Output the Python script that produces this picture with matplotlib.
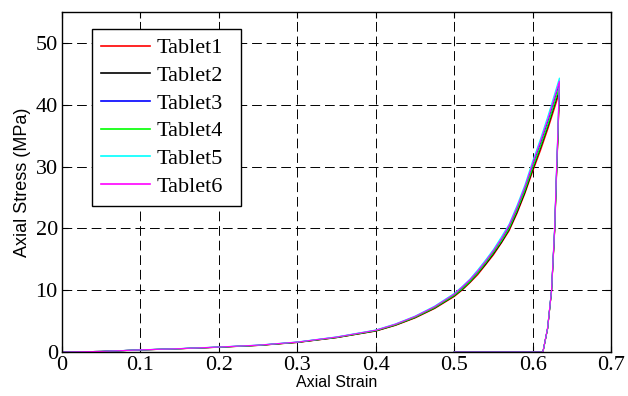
import numpy as np
import matplotlib.pyplot as plt

# strain points: loading up to peak, then unloading back to zero stress
strain = [0, 0.05, 0.1, 0.15, 0.2, 0.25, 0.3, 0.35, 0.4, 0.425, 0.45, 0.475, 0.5,
          0.51, 0.52, 0.53, 0.54, 0.55, 0.56, 0.57, 0.58, 0.59, 0.6, 0.61, 0.62, 0.63, 0.634,
          0.632, 0.630, 0.628, 0.624, 0.619, 0.613, 0.5]

# stress (MPa) for each tablet
tablet1 = [0, 0.1, 0.34, 0.53, 0.77, 1.06, 1.54, 2.32, 3.38, 4.30, 5.50, 7.03, 8.97,
           10.0, 11.2, 12.5, 14.1, 15.7, 17.6, 19.6, 22.4, 25.6, 29.2, 32.6, 36.3, 40.3, 42.0,
           34.0, 27.0, 19.5, 9.8, 3.8, 0, 0]
tablet2 = [0, 0.1, 0.34, 0.54, 0.78, 1.07, 1.56, 2.34, 3.41, 4.35, 5.56, 7.10, 9.07,
           10.1, 11.3, 12.7, 14.2, 15.9, 17.7, 19.8, 22.6, 25.8, 29.5, 33.0, 36.7, 40.8, 42.4,
           34.3, 27.3, 19.7, 9.9, 3.8, 0, 0]
tablet3 = [0, 0.1, 0.35, 0.55, 0.8, 1.1, 1.6, 2.4, 3.5, 4.46, 5.70, 7.28, 9.3,
           10.4, 11.6, 13.0, 14.6, 16.3, 18.2, 20.3, 23.2, 26.5, 30.3, 33.8, 37.6, 41.8, 43.5,
           35.0, 27.9, 20.0, 10.0, 3.9, 0, 0]
tablet4 = [0, 0.1, 0.34, 0.54, 0.79, 1.08, 1.58, 2.36, 3.45, 4.39, 5.61, 7.17, 9.16,
           10.2, 11.4, 12.8, 14.4, 16.1, 17.9, 20.0, 22.9, 26.1, 29.8, 33.3, 37.0, 41.2, 42.8,
           34.5, 27.5, 19.8, 9.9, 3.8, 0, 0]
tablet5 = [0, 0.1, 0.36, 0.56, 0.82, 1.12, 1.63, 2.45, 3.57, 4.55, 5.81, 7.43, 9.49,
           10.6, 11.8, 13.3, 14.9, 16.6, 18.6, 20.7, 23.7, 27.0, 30.9, 34.5, 38.4, 42.6, 44.3,
           35.6, 28.3, 20.3, 10.1, 3.9, 0, 0]
tablet6 = [0, 0.1, 0.35, 0.55, 0.81, 1.11, 1.61, 2.42, 3.53, 4.50, 5.75, 7.34, 9.37,
           10.5, 11.7, 13.1, 14.7, 16.4, 18.3, 20.5, 23.4, 26.7, 30.5, 34.1, 37.9, 42.1, 43.8,
           35.3, 28.1, 20.1, 10.0, 3.9, 0, 0]

labels = ['Tablet1', 'Tablet2', 'Tablet3', 'Tablet4', 'Tablet5', 'Tablet6']
colors = ['#ff0000', '#000000', '#0000ff', '#00ff00', '#00ffff', '#ff00ff']

fig = plt.figure(figsize=(6.28, 3.96), dpi=100)
ax = fig.add_axes([0.0987, 0.111, 0.8745, 0.859])

for s, lab, c in zip([tablet1, tablet2, tablet3, tablet4, tablet5, tablet6], labels, colors):
    ax.plot(strain, s, color=c, lw=0.8, label=lab)

ax.set_xlim(0, 0.7)
ax.set_ylim(0, 55)
ax.set_xticks(np.arange(0, 0.71, 0.1))
ax.set_xticklabels(['0', '0.1', '0.2', '0.3', '0.4', '0.5', '0.6', '0.7'])
ax.set_yticks([0, 10, 20, 30, 40, 50])

ax.grid(True, color='black', linestyle=(0, (10, 5)), linewidth=0.7)
ax.tick_params(direction='in', top=True, right=True, length=4, width=0.8,
               labelsize=16, pad=3)
for lbl in ax.get_xticklabels() + ax.get_yticklabels():
    lbl.set_family('Liberation Serif')
for sp in ax.spines.values():
    sp.set_linewidth(1.0)

ax.set_xlabel('Axial Strain', fontsize=11.5, family='Liberation Sans', labelpad=0)
ax.set_ylabel('Axial Stress (MPa)', fontsize=13, family='Liberation Sans', labelpad=3)

leg = ax.legend(loc='upper left', bbox_to_anchor=(0.0546, 0.85, 0.2714, 0.1), mode='expand',
                borderaxespad=0, prop={'family': 'Liberation Serif', 'size': 16},
                fancybox=False, framealpha=1, edgecolor='black', handlelength=2.2,
                handletextpad=0.3, labelspacing=0.32, borderpad=0.4)
leg.get_frame().set_linewidth(1.0)
for h in leg.get_lines():
    h.set_linewidth(1.2)

plt.savefig('out.png', dpi=100)
